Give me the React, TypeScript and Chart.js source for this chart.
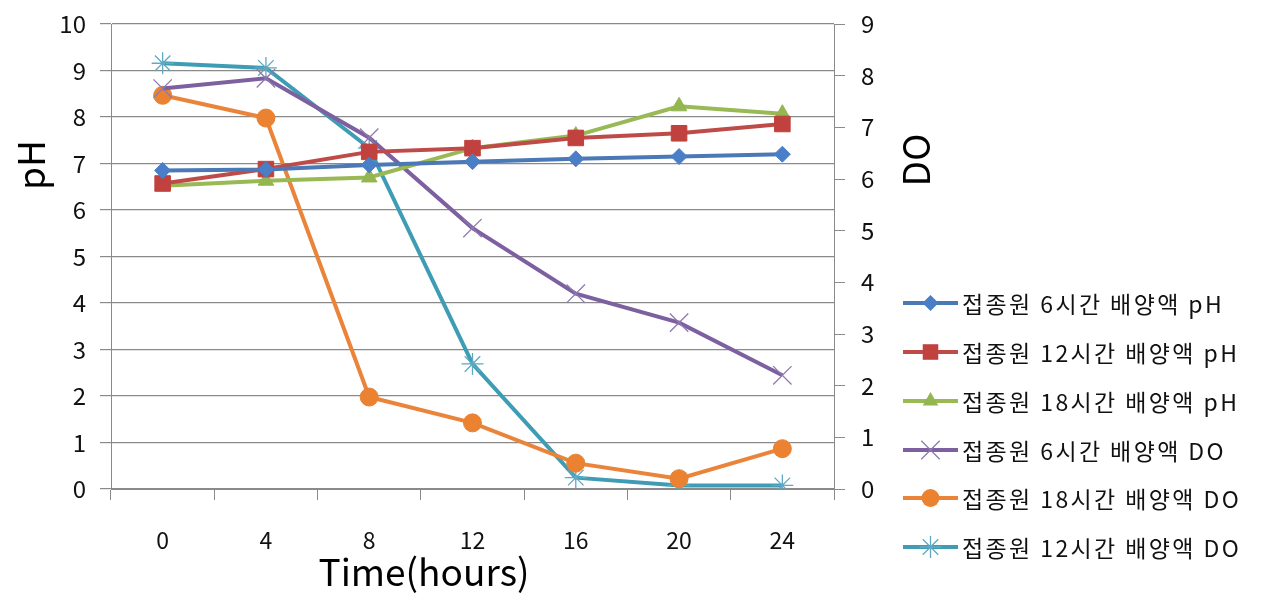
import React, { useEffect, useRef } from "react";
import { Chart, registerables } from "chart.js";

Chart.register(...registerables);

const hours = ["0", "4", "8", "12", "16", "20", "24"];
const ph6 = [6.85, 6.87, 6.97, 7.04, 7.1, 7.15, 7.2];
const ph12 = [6.57, 6.88, 7.25, 7.33, 7.55, 7.65, 7.85];
const ph18 = [6.52, 6.63, 6.7, 7.33, 7.6, 8.23, 8.07];
const do6 = [7.75, 7.95, 6.8, 5.05, 3.78, 3.22, 2.2];
const do18 = [7.62, 7.18, 1.78, 1.28, 0.5, 0.2, 0.78];
const do12 = [8.24, 8.15, 6.6, 2.42, 0.22, 0.07, 0.07];

const seriesNames = [
  "접종원 6시간 배양액 pH",
  "접종원 12시간 배양액 pH",
  "접종원 18시간 배양액 pH",
  "접종원 6시간 배양액 DO",
  "접종원 18시간 배양액 DO",
  "접종원 12시간 배양액 DO",
];
const xTitle = "Time(hours)";
const yTitle = "pH";
const y2Title = "DO";

const FONT = '"Noto Sans CJK KR", "Noto Sans", sans-serif';
const GRID = "#8a8a8a";

type Spec = {
  data: number[];
  color: string;
  markerColor: string;
  style: string;
  radius: number;
  bw: number;
  axis: string;
};

const specs: Spec[] = [
  { data: ph6, color: "#4A79B6", markerColor: "#4A7EC6", style: "rectRot", radius: 8, bw: 1, axis: "y" },
  { data: ph12, color: "#BE4B48", markerColor: "#C0413E", style: "rect", radius: 11, bw: 1, axis: "y" },
  { data: ph18, color: "#98B954", markerColor: "#93B650", style: "triangle", radius: 9, bw: 1, axis: "y" },
  { data: do6, color: "#7D60A0", markerColor: "#8E7AAE", style: "crossRot", radius: 13, bw: 1.3, axis: "y2" },
  { data: do18, color: "#EA843A", markerColor: "#EA8231", style: "circle", radius: 9, bw: 1, axis: "y2" },
  { data: do12, color: "#3E9DB5", markerColor: "#5FA9C2", style: "star", radius: 11, bw: 1.3, axis: "y2" },
];

function drawMarker(ctx: CanvasRenderingContext2D, s: Spec, x: number, y: number) {
  const r = s.radius;
  ctx.save();
  ctx.fillStyle = s.markerColor;
  ctx.strokeStyle = s.markerColor;
  ctx.lineWidth = s.bw;
  ctx.beginPath();
  if (s.style === "rectRot") {
    ctx.moveTo(x, y - r);
    ctx.lineTo(x + r, y);
    ctx.lineTo(x, y + r);
    ctx.lineTo(x - r, y);
    ctx.closePath();
    ctx.fill();
  } else if (s.style === "rect") {
    const h = r * Math.SQRT1_2;
    ctx.rect(x - h, y - h, 2 * h, 2 * h);
    ctx.fill();
  } else if (s.style === "triangle") {
    const side = (r * 3) / Math.sqrt(3);
    const height = (side * Math.sqrt(3)) / 2;
    ctx.moveTo(x, y - (2 * height) / 3);
    ctx.lineTo(x + side / 2, y + height / 3);
    ctx.lineTo(x - side / 2, y + height / 3);
    ctx.closePath();
    ctx.fill();
  } else if (s.style === "circle") {
    ctx.arc(x, y, r, 0, Math.PI * 2);
    ctx.fill();
  } else if (s.style === "crossRot" || s.style === "star") {
    const d = r * Math.SQRT1_2;
    ctx.moveTo(x - d, y - d);
    ctx.lineTo(x + d, y + d);
    ctx.moveTo(x - d, y + d);
    ctx.lineTo(x + d, y - d);
    if (s.style === "star") {
      ctx.moveTo(x, y - r);
      ctx.lineTo(x, y + r);
      ctx.moveTo(x - r, y);
      ctx.lineTo(x + r, y);
    }
    ctx.stroke();
  }
  ctx.restore();
}

const overlay = {
  id: "overlay",
  afterDraw(chart: any) {
    const ctx: CanvasRenderingContext2D = chart.ctx;
    ctx.save();
    ctx.fillStyle = "#000";
    ctx.textAlign = "center";
    ctx.textBaseline = "middle";
    ctx.font = `37px ${FONT}`;
    ctx.save();
    ctx.translate(31, 165);
    ctx.rotate(-Math.PI / 2);
    ctx.fillText(yTitle, 0, 0);
    ctx.restore();
    ctx.save();
    ctx.translate(916, 160);
    ctx.rotate(-Math.PI / 2);
    ctx.fillText(y2Title, 0, 0);
    ctx.restore();
    ctx.font = `37px ${FONT}`;
    ctx.fillText(xTitle, 424, 572);

    // legend
    const x0 = 903;
    const x1 = 958;
    const tops = [303, 352, 401, 450, 498, 547];
    ctx.font = `23px ${FONT}`;
    (ctx as any).letterSpacing = "2.4px";
    ctx.textAlign = "left";
    specs.forEach((s, i) => {
      const y = tops[i];
      ctx.strokeStyle = s.color;
      ctx.lineWidth = 4;
      ctx.beginPath();
      ctx.moveTo(x0, y);
      ctx.lineTo(x1, y);
      ctx.stroke();
      drawMarker(ctx, s, (x0 + x1) / 2, y);
      ctx.fillStyle = "#111";
      ctx.fillText(seriesNames[i], 962, y + 1);
    });
    (ctx as any).letterSpacing = "0px";
    ctx.restore();
  },
};

export default function App() {
  const ref = useRef<HTMLCanvasElement>(null);
  useEffect(() => {
    if (!ref.current) return;
    const chart = new Chart(ref.current, {
      type: "line",
      data: {
        labels: hours,
        datasets: specs.map((s, i) => ({
          label: seriesNames[i],
          data: s.data,
          yAxisID: s.axis,
          borderColor: s.color,
          backgroundColor: s.markerColor,
          borderWidth: 4,
          pointStyle: s.style as any,
          pointRadius: s.radius,
          pointBorderWidth: s.bw,
          pointBorderColor: s.markerColor,
          pointBackgroundColor: s.markerColor,
          tension: 0,
          fill: false,
        })),
      },
      plugins: [overlay],
      options: {
        animation: false,
        responsive: true,
        maintainAspectRatio: false,
        layout: { padding: { left: 0, right: 381, top: 24, bottom: 0 } },
        plugins: {
          legend: { display: false },
          tooltip: { enabled: false },
        },
        scales: {
          x: {
            type: "category",
            offset: true,
            afterFit: (s: any) => {
              s.height = 106;
            },
            grid: {
              offset: true,
              drawOnChartArea: false,
              drawTicks: true,
              tickLength: 11,
              color: GRID,
            },
            border: { color: GRID },
            ticks: { color: "#111", font: { family: FONT, size: 23 }, padding: 26 },
          },
          y: {
            position: "left",
            min: 0,
            max: 10,
            afterFit: (s: any) => {
              s.width = 111;
              s.paddingTop = 0;
              s.paddingBottom = 0;
            },
            ticks: { stepSize: 1, color: "#111", font: { family: FONT, size: 24, lineHeight: 1 }, padding: 14 },
            grid: { color: GRID, tickLength: 11, lineWidth: 1.2 },
            border: { color: GRID },
          },
          y2: {
            position: "right",
            min: 0,
            max: 9,
            afterFit: (s: any) => {
              s.width = 50;
              s.paddingTop = 0;
              s.paddingBottom = 0;
            },
            ticks: { stepSize: 1, color: "#111", font: { family: FONT, size: 24, lineHeight: 1 }, padding: 16 },
            grid: { drawOnChartArea: false, color: GRID, tickLength: 11 },
            border: { color: GRID },
          },
        },
      },
    });
    return () => chart.destroy();
  }, []);
  return (
    <div style={{ position: "absolute", left: 0, top: 0, width: 1265, height: 595, background: "#fff" }}>
      <canvas ref={ref} />
    </div>
  );
}
